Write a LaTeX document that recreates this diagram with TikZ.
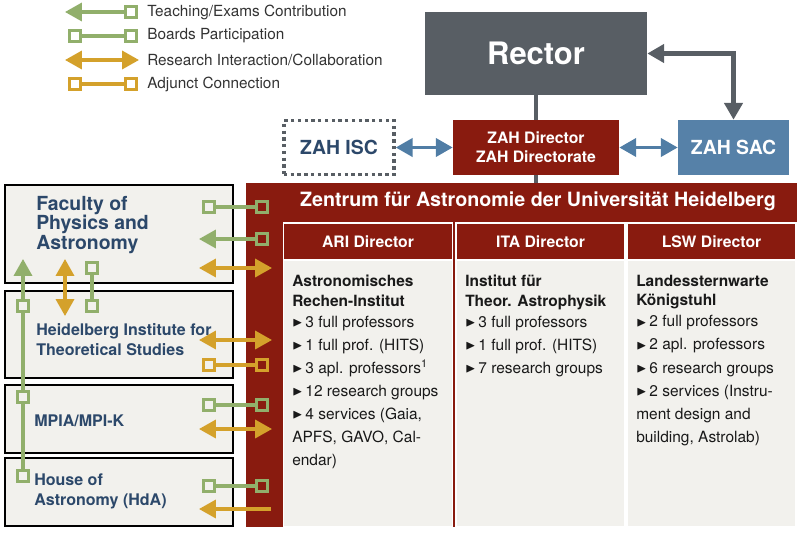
\documentclass[tikz,border=0pt]{standalone}
\usepackage{fontspec}
\setmainfont{TeX Gyre Heros}
\usepackage{amssymb}
\usetikzlibrary{arrows.meta,positioning,calc}
\definecolor{zahred}{RGB}{137,27,15}
\definecolor{rectgray}{RGB}{88,94,100}
\definecolor{sacblue}{RGB}{86,129,168}
\definecolor{linkblue}{RGB}{80,125,165}
\definecolor{navy}{RGB}{44,72,106}
\definecolor{leaf}{RGB}{145,175,107}
\definecolor{ochre}{RGB}{212,161,43}
\definecolor{paper}{RGB}{242,241,237}
\newcommand\tri{\raisebox{0.4pt}{\fontsize{9.5}{9.5}\selectfont$\blacktriangleright$}\hspace{2pt}}

\begin{document}
\begin{tikzpicture}[x=0.025cm,y=-0.025cm,>={Triangle[length=4.2mm,width=4.5mm]},font=\fontsize{11}{16.4}\selectfont]
\tikzstyle{sq}=[draw,line width=2pt,minimum size=2.8mm,inner sep=0pt]
\tikzstyle{lnk}=[line width=2.2pt]
\tikzstyle{legtxt}=[anchor=west,inner sep=0pt,text=black!80,font=\fontsize{10.9}{13}\selectfont]
\tikzstyle{unit}=[draw=black,line width=1.3pt,fill=paper,minimum width=5.7cm,inner sep=0pt]
\tikzstyle{unitlbl}=[anchor=north west,align=left,inner sep=0pt,text=navy,font=\bfseries\fontsize{11.4}{14.2}\selectfont]
\tikzstyle{colbody}=[fill=paper,draw=white,line width=0.8pt,minimum width=4.225cm,minimum height=7.6cm,inner sep=0pt]
\tikzstyle{colhead}=[fill=zahred,draw=white,line width=0.8pt,minimum width=4.225cm,minimum height=0.925cm,text=white,font=\bfseries\fontsize{11.2}{13}\selectfont]
\tikzstyle{coltxt}=[anchor=north west,align=left,inner sep=0pt,text=black!90]
\useasboundingbox (0,0) rectangle (800,533);

% legend
\foreach \y/\txt [count=\i] in {12/{Teaching/Exams Contribution},36/{Boards Participation},60/{Research Interaction/Collaboration},84/{Adjunct Connection}}
  \node[legtxt] (lt\i) at (147,\y) {\txt};
\node[sq,draw=leaf] (lg1) at (131,12) {};
\coordinate (lg1t) at (65,12);
\draw[lnk,leaf,->] (lg1) -- (lg1t);
\node[sq,draw=leaf] (lg2a) at (75,36) {};
\node[sq,draw=leaf] (lg2b) at (131,36) {};
\draw[lnk,leaf] (lg2a) -- (lg2b);
\coordinate (lg3a) at (65,60);
\coordinate (lg3b) at (139,60);
\draw[lnk,ochre,<->] (lg3a) -- (lg3b);
\node[sq,draw=ochre] (lg4a) at (75,84) {};
\node[sq,draw=ochre] (lg4b) at (131,84) {};
\draw[lnk,ochre] (lg4a) -- (lg4b);

% top: rector, directorate, councils
\node[fill=rectgray,minimum width=5.55cm,minimum height=2.075cm,text=white,font=\bfseries\fontsize{22}{26}\selectfont] (rector) at (536,53.5) {Rector};
\node[fill=zahred,minimum width=4.15cm,minimum height=1.375cm,text=white,align=center,font=\bfseries\fontsize{11.2}{13.5}\selectfont] (dir) at (536,147.5) {ZAH Director\\ZAH Directorate};
\node[draw=rectgray,line width=2.4pt,dash pattern=on 2.4pt off 2.4pt,minimum width=2.75cm,minimum height=1.34cm,text=navy,font=\bfseries\fontsize{13.8}{16}\selectfont] (isc) at (339,147.5) {ZAH ISC};
\node[fill=sacblue,minimum width=2.775cm,minimum height=1.375cm,text=white,font=\bfseries\fontsize{13.8}{16}\selectfont] (sac) at (733.5,147.5) {ZAH SAC};
\draw[line width=2.6pt,linkblue,<->] (isc) -- (dir);
\draw[line width=2.6pt,linkblue,<->] (dir) -- (sac);
\coordinate (rsbend) at (sac.north |- rector.east);
\draw[line width=3pt,rectgray,<->] (rector.east) -- (rsbend) -- (sac.north);
\draw[line width=3pt,rectgray] (rector) -- (dir);

% ZAH band and institutes
\node[fill=zahred,minimum width=13.775cm,minimum height=8.6cm,inner sep=0pt] (zah) at (521.5,355) {};
\draw[line width=2.2pt,rectgray] (dir.south) -- (dir.south |- zah.north);
\node[text=white,font=\bfseries\fontsize{14}{16}\selectfont] (zahtitle) at (538,201) {Zentrum für Astronomie der Universität Heidelberg};
\foreach \nm/\cx/\hd in {ari/368/ARI Director,ita/540.5/ITA Director,lsw/711.5/LSW Director} {
  \node[colbody] (\nm) at (\cx,375) {};
  \node[colhead] (\nm h) at (\cx,241.5) {\hd};
}
\node[coltxt] (aritxt) at (292,275) {\textbf{Astronomisches}\\[-2.6pt]\textbf{Rechen-Institut}\\[-1.5pt]
  \tri 3 full professors\\ \tri 1 full prof. (HITS)\\ \tri 3 apl. professors\textsuperscript{1}\\
  \tri 12 research groups\\ \tri 4 services (Gaia,\\ APFS, GAVO, Cal-\\ endar)};
\node[coltxt] (itatxt) at (465,275) {\textbf{Institut für}\\[-2.6pt]\textbf{Theor. Astrophysik}\\[-1.5pt]
  \tri 3 full professors\\ \tri 1 full prof. (HITS)\\ \tri 7 research groups};
\node[coltxt] (lswtxt) at (636,275) {\textbf{Landessternwarte}\\[-2.6pt]\textbf{Königstuhl}\\[-1.5pt]
  \tri 2 full professors\\ \tri 2 apl. professors\\ \tri 6 research groups\\
  \tri 2 services (Instru-\\ ment design and\\ building, Astrolab)};

% partner institutions
\node[unit,minimum height=2.45cm] (fak) at (119,234) {};
\node[unit,minimum height=2.175cm] (hits) at (119,334.5) {};
\node[unit,minimum height=1.7cm] (mpia) at (119,419) {};
\node[unit,minimum height=1.7cm] (hda) at (119,492) {};
\node[unitlbl,font=\bfseries\fontsize{13.8}{13.8}\selectfont] (faklbl) at (36,196) {Faculty of\\Physics and\\Astronomy};
\node[unitlbl] (hitslbl) at (36,323) {Heidelberg Institute for\\Theoretical Studies};
\node[unitlbl] (mpialbl) at (34,415) {MPIA/MPI-K};
\node[unitlbl] (hdalbl) at (34,474) {House of\\Astronomy (HdA)};

% links to the ZAH
\foreach \y/\c [count=\i] in {207/leaf,365/ochre,405/leaf,486/leaf} {
  \node[sq,draw=\c] (bl\i) at (209,\y) {};
  \node[sq,draw=\c] (br\i) at (262,\y) {};
  \draw[lnk,\c] (bl\i) -- (br\i);
}
\foreach \y [count=\i] in {268,340,429} {
  \coordinate (rl\i) at (199,\y);
  \coordinate (rr\i) at (272,\y);
  \draw[lnk,ochre,<->] (rl\i) -- (rr\i);
}
\node[sq,draw=leaf] (tfak) at (262,239) {};
\coordinate (tfakt) at (199,239);
\draw[lnk,leaf,->] (tfak) -- (tfakt);
\coordinate (rhda) at (271,509);
\coordinate (rhdat) at (199,509);
\draw[lnk,ochre,->] (rhda) -- (rhdat);

% links to the faculty
\node[sq,draw=leaf] (t2) at (23,306) {};
\node[sq,draw=leaf] (t3) at (23,397) {};
\node[sq,draw=leaf] (t4) at (23,476) {};
\coordinate (t1) at (23,259);
\draw[lnk,leaf] (t4) -- (t3);
\draw[lnk,leaf] (t3) -- (t2);
\draw[lnk,leaf,->] (t2) -- (t1);
\coordinate (ra) at (65,259);
\coordinate (rb) at (65,316);
\draw[lnk,ochre,<->] (ra) -- (rb);
\node[sq,draw=leaf] (ba) at (92,268) {};
\node[sq,draw=leaf] (bb) at (92,306) {};
\draw[lnk,leaf] (ba) -- (bb);
\end{tikzpicture}
\end{document}
